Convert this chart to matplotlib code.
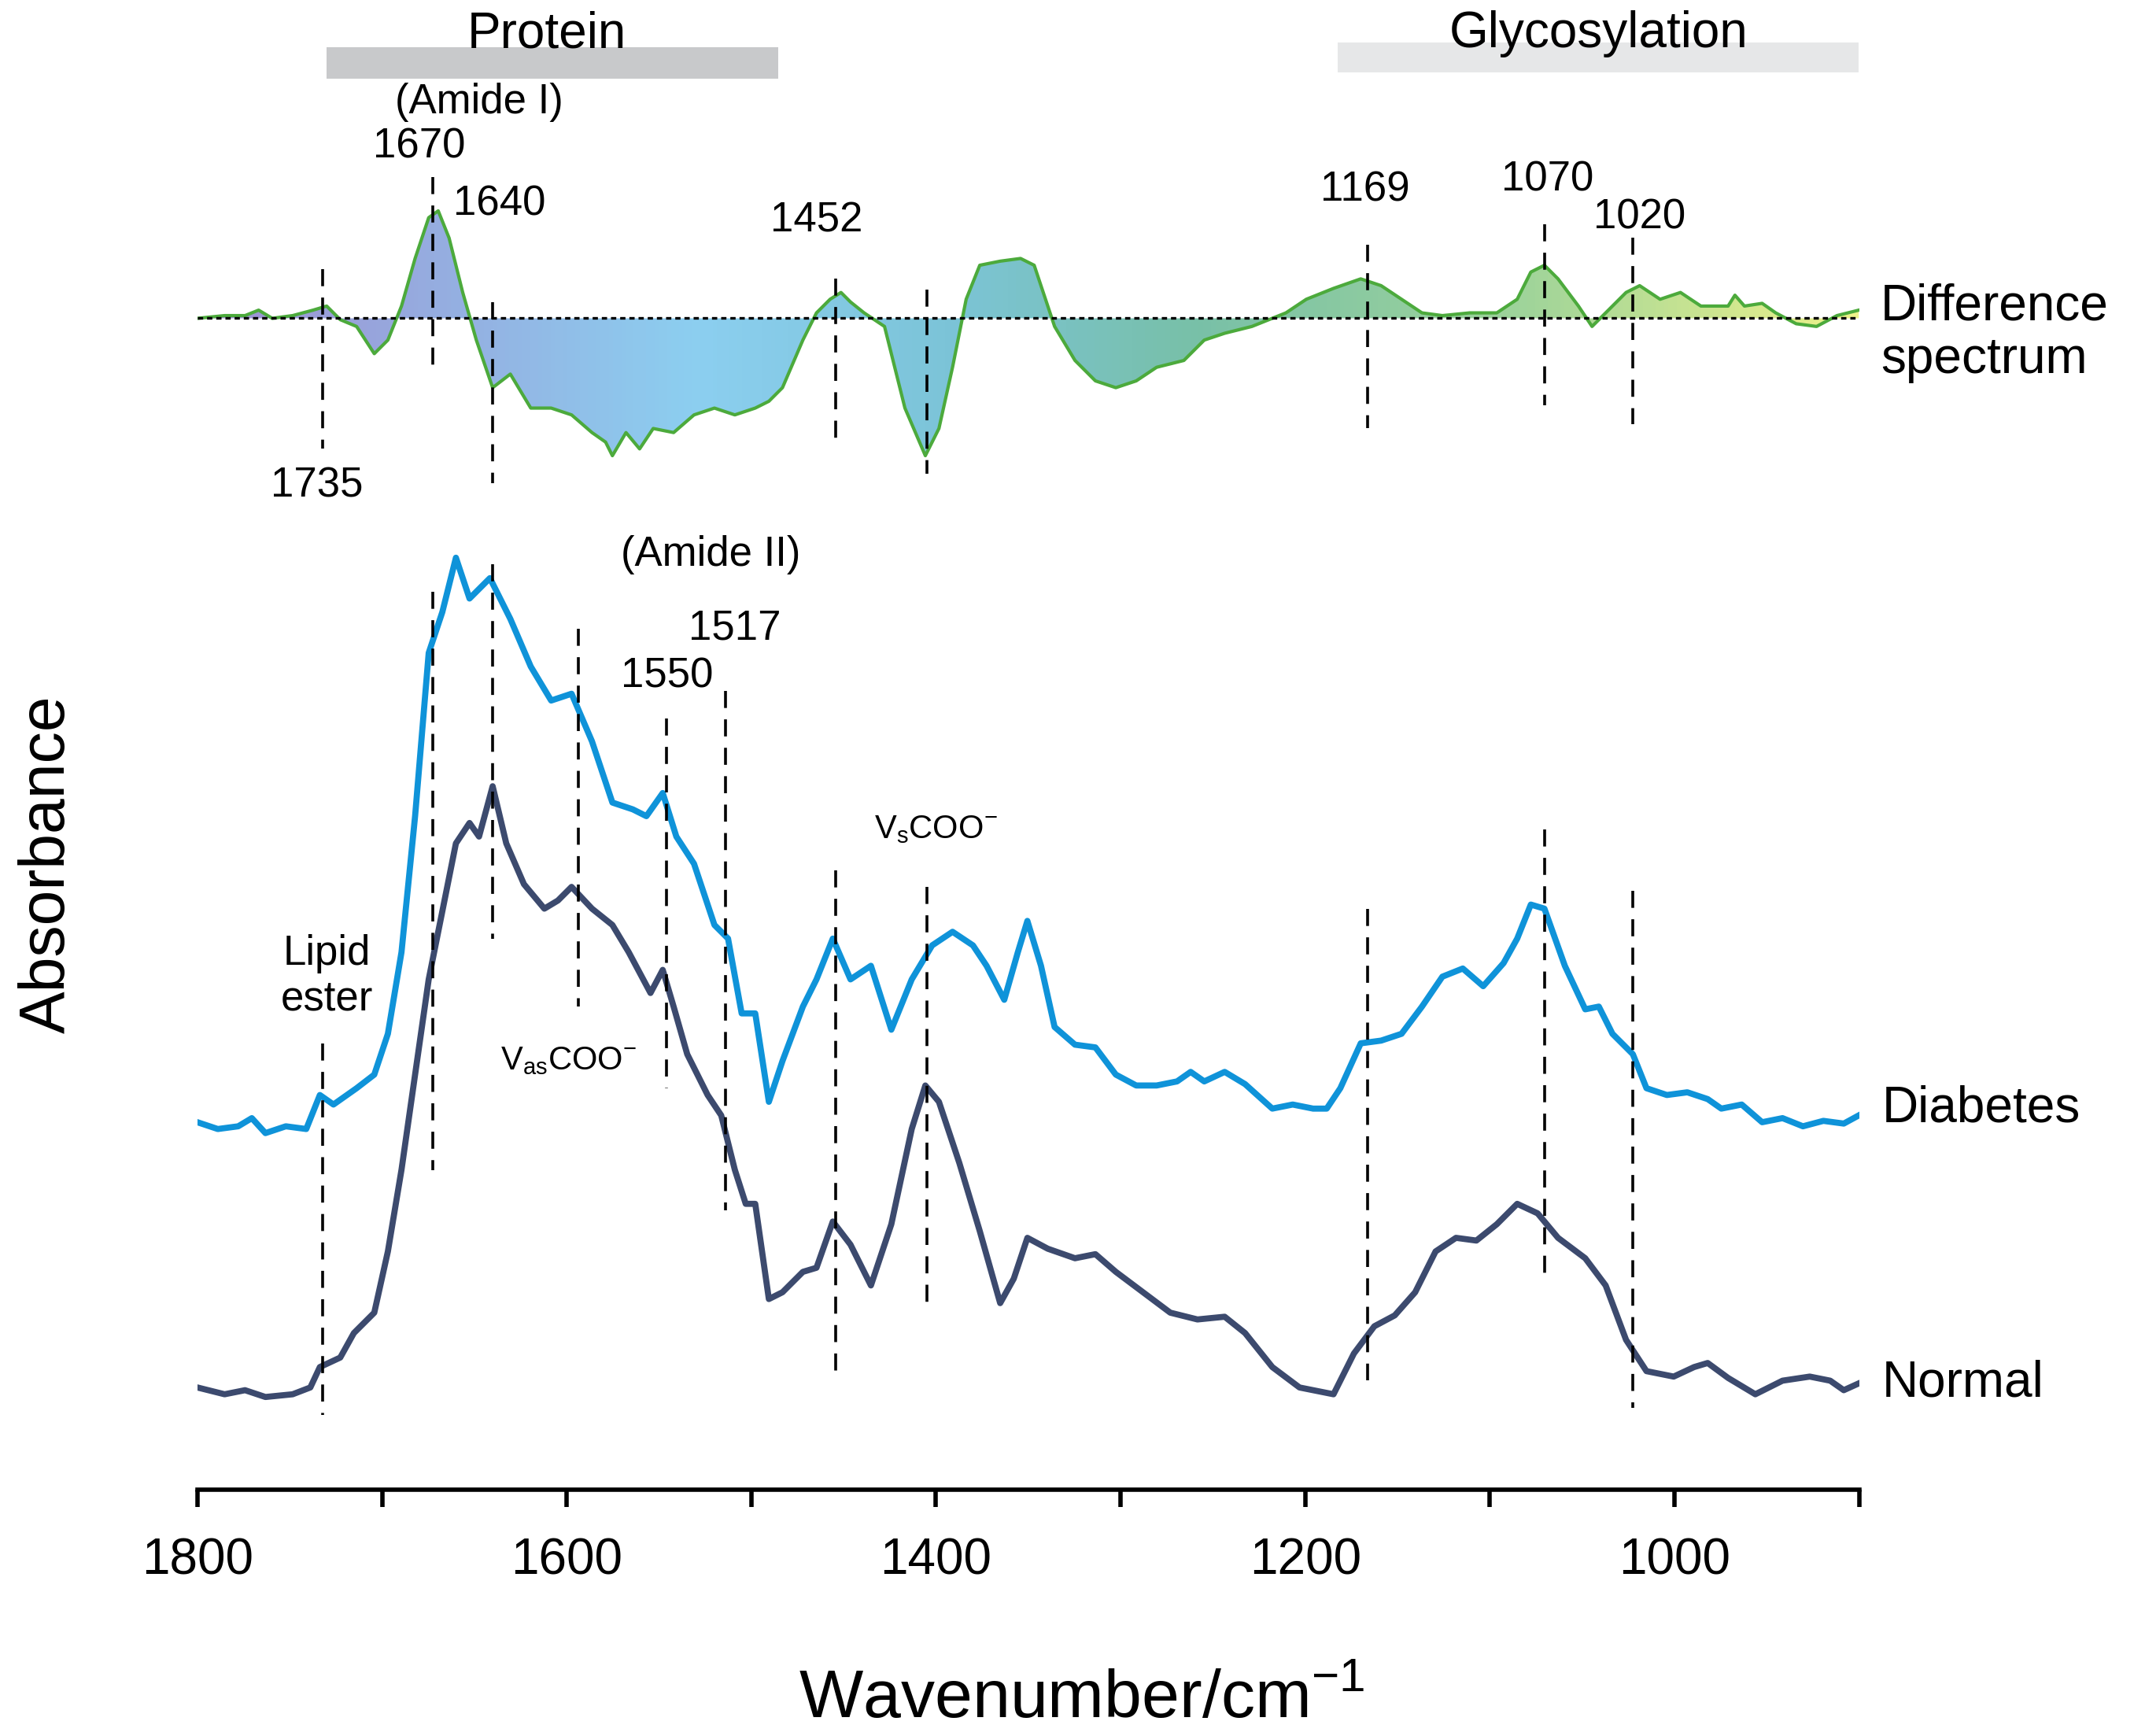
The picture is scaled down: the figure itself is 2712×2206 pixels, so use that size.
import numpy as np
import matplotlib.pyplot as plt
from matplotlib.colors import LinearSegmentedColormap
from matplotlib.patches import Polygon

plt.rcParams['font.family'] = ['Liberation Sans', 'DejaVu Sans']

def wn(px):
    return 1800 - (np.asarray(px, float) - 145) / 1.357

diab_x = [145,160,175,185,195,210,225,235,245,262,275,285,295,305,315,325,335,345,360,375,390,405,420,435,450,465,475,487,497,510,525,535,545,555,565,575,590,600,612,625,640,655,670,685,700,715,725,738,748,755,765,775,790,805,820,835,850,865,875,885,900,915,935,950,965,975,985,1000,1015,1030,1045,1060,1075,1090,1105,1115,1125,1135,1150,1165,1175,1185,1200,1210,1225,1240,1255,1265,1280,1295,1310,1325,1340,1355,1366]
diab_y = [825,830,828,822,833,828,830,805,812,800,790,760,700,600,480,450,410,440,425,455,490,515,510,545,590,595,600,583,615,635,680,690,745,745,810,780,740,720,690,720,710,757,720,695,685,695,710,735,700,677,710,755,768,770,790,798,798,795,788,795,788,797,815,812,815,815,800,767,765,760,740,718,712,725,708,690,665,668,710,742,740,760,775,800,805,803,808,815,812,825,822,828,824,826,820]
norm_x = [145,165,180,195,215,228,235,250,260,275,285,295,305,315,325,335,345,352,362,372,385,400,410,420,435,450,462,470,478,487,495,505,520,530,540,548,555,565,575,590,600,612,625,640,655,670,680,690,705,720,735,745,755,770,790,805,820,840,860,880,900,915,935,955,980,995,1010,1025,1040,1055,1070,1085,1100,1115,1130,1145,1165,1180,1195,1210,1230,1245,1255,1270,1290,1310,1330,1345,1355,1366]
norm_y = [1020,1025,1022,1027,1025,1020,1005,998,980,965,920,860,790,720,670,620,605,615,578,620,650,668,662,652,668,680,700,715,730,713,740,775,805,820,860,885,885,955,950,935,932,898,915,945,900,830,798,810,855,905,958,940,910,918,925,922,935,950,965,970,968,980,1005,1020,1025,995,975,967,950,920,910,912,900,885,892,910,925,945,985,1008,1012,1005,1002,1013,1025,1015,1012,1015,1022,1017]
diff_x = [145,165,180,190,200,215,230,240,250,262,275,285,295,305,315,322,330,340,350,362,375,390,405,420,435,445,450,460,470,480,495,510,525,540,555,565,575,590,600,610,618,625,635,650,665,680,690,700,710,720,735,750,760,775,790,805,820,835,850,870,885,900,920,945,960,980,1000,1015,1030,1045,1060,1080,1100,1115,1125,1135,1145,1160,1170,1180,1195,1205,1220,1235,1250,1270,1275,1282,1295,1305,1320,1335,1350,1366]
diff_y = [234,232,232,228,234,232,228,225,235,240,260,250,225,190,160,155,175,215,250,285,275,300,300,305,318,325,335,318,330,315,318,305,300,305,300,295,285,250,230,220,215,222,230,240,300,335,315,270,220,195,192,190,195,240,265,280,285,280,270,265,250,245,240,230,220,212,205,210,220,230,232,230,230,220,200,195,205,225,240,230,215,210,220,215,225,225,217,225,223,230,238,240,232,228]
diff_base = 234

diff_marks = {237:(198,330),318:(130,275),362:(222,355),614:(205,330),681:(213,348),1005:(180,315),1135:(165,298),1200:(175,312)}
spec_marks = {237:(767,1040),318:(435,860),362:(415,690),425:(462,740),490:(528,800),533:(508,890),614:(640,1015),681:(652,960),1005:(668,1015),1135:(610,940),1200:(655,1035)}

fig = plt.figure(figsize=(13.56, 11.03), dpi=200)
ax = fig.add_axes([0.0925, 0.142, 0.7787, 0.858])
ax.set_xlim(1800, 900)
ax.set_ylim(1095, 0)
for s in ['top', 'left', 'right']:
    ax.spines[s].set_visible(False)
ax.spines['bottom'].set_linewidth(2)
ax.set_yticks([])
ax.set_xticks(np.arange(1800, 899, -100))
ax.set_xticklabels([str(t) if t % 200 == 0 else '' for t in range(1800, 899, -100)], fontsize=23)
ax.tick_params(axis='x', direction='out', length=8, width=2, pad=14)

dx = wn(diff_x); dy = np.array(diff_y, float)
cmap = LinearSegmentedColormap.from_list('g', [(0, '#9e8fd2'), (0.3, '#8ccff0'), (0.45, '#7cc4d8'), (0.6, '#78c0a8'), (0.8, '#9fd49a'), (1, '#eef28a')])
grad = np.linspace(0, 1, 400)[None, :]
im = ax.imshow(grad, extent=(1800, 900, 400, 100), cmap=cmap, aspect='auto', zorder=1)
poly = Polygon(np.column_stack([np.r_[dx, dx[::-1]], np.r_[dy, np.full(len(dy), diff_base)]]), transform=ax.transData, facecolor='none', edgecolor='none')
ax.add_patch(poly)
im.set_clip_path(poly)
ax.set_ylim(1095, 0)
ax.plot(dx, dy, color='#4caa3c', lw=1.5, zorder=3, solid_joinstyle='round')
ax.plot([1800, 900], [diff_base, diff_base], color='black', lw=1.2, ls=(0, (2, 1.5)), zorder=4)

ax.plot(wn(diab_x), diab_y, color='#0f93d9', lw=2.8, zorder=3, solid_joinstyle='round')
ax.plot(wn(norm_x), norm_y, color='#3c4a6e', lw=2.8, zorder=3, solid_joinstyle='round')

for px, (a, b) in list(diff_marks.items()) + list(spec_marks.items()):
    ax.plot([wn(px), wn(px)], [a, b], color='black', lw=1.3, ls=(0, (6, 4)), zorder=5)

fs = 19
labels = [('1670', 308, 108), ('(Amide I)', 352, 75), ('1640', 367, 150), ('1452', 600, 162),
          ('1735', 233, 357), ('1169', 1003, 140), ('1070', 1137, 132), ('1020', 1205, 160),
          ('(Amide II)', 522, 408), ('1517', 540, 462), ('1550', 490, 497), ('Lipid\nester', 240, 718)]
for t, x, y in labels:
    ax.text(wn(x), y, t, fontsize=fs, ha='center', va='center', linespacing=1.2)
ax.text(wn(418), 780, r'V$_{\mathregular{as}}$COO$^{\mathregular{-}}$', fontsize=15, ha='center', va='center')
ax.text(wn(688), 610, r'V$_{\mathregular{s}}$COO$^{\mathregular{-}}$', fontsize=15, ha='center', va='center')

ax.text(wn(1382), 245, 'Difference\nspectrum', fontsize=23, ha='left', va='center', clip_on=False, linespacing=1.15)
ax.text(wn(1383), 815, 'Diabetes', fontsize=23, ha='left', va='center', clip_on=False)
ax.text(wn(1383), 1017, 'Normal', fontsize=23, ha='left', va='center', clip_on=False)

ax.fill_between([wn(240), wn(572)], 35, 58, color='#c8c9cb', lw=0, zorder=0)
ax.fill_between([wn(983), wn(1366)], 31, 53, color='#e6e7e8', lw=0, zorder=0)
ax.text(wn(402), 25, 'Protein', fontsize=23, ha='center', va='center')
ax.text(wn(1175), 25, 'Glycosylation', fontsize=23, ha='center', va='center')

fig.text(35/1568, 1-635/1276, 'Absorbance', rotation=90, fontsize=29, ha='center', va='center')
fig.text(795/1568, 1-1250/1276, 'Wavenumber/cm$^{\\mathregular{-1}}$', fontsize=31, ha='center', va='center')

fig.savefig('out.png', dpi=200)
